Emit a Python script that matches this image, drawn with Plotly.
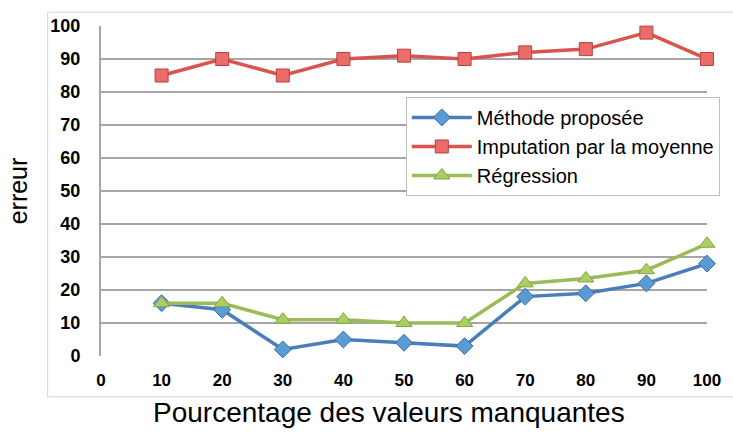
import plotly.graph_objects as go

# Percentage of missing values (x) and error of each method (y)
pourcentages = [10, 20, 30, 40, 50, 60, 70, 80, 90, 100]
methode_proposee = [16, 14, 2, 5, 4, 3, 18, 19, 22, 28]
imputation_moyenne = [85, 90, 85, 90, 91, 90, 92, 93, 98, 90]
regression = [16, 16, 11, 11, 10, 10, 22, 23.5, 26, 34]

x_ticks = [0, 10, 20, 30, 40, 50, 60, 70, 80, 90, 100]
y_ticks = [0, 10, 20, 30, 40, 50, 60, 70, 80, 90, 100]

series = [
    ("Méthode proposée", methode_proposee, "#4a7ebb", "#5b9bd5", "#3d6da6", "diamond", 13),
    ("Imputation par la moyenne", imputation_moyenne, "#d9534f", "#ec6b6b", "#b8403d", "square", 13),
    ("Régression", regression, "#9bbb59", "#a9cf5f", "#86a448", "triangle-up", 14),
]

fig = go.Figure()
for name, values, line_col, fill_col, edge_col, symbol, size in series:
    fig.add_trace(go.Scatter(
        x=pourcentages, y=values, name=name, mode="lines+markers",
        line=dict(color=line_col, width=3.5),
        marker=dict(symbol=symbol, size=size, color=fill_col,
                    line=dict(color=edge_col, width=1)),
        cliponaxis=False,
    ))

fig.update_layout(
    width=733, height=433,
    margin=dict(l=101, r=18, t=26, b=77),
    paper_bgcolor="white", plot_bgcolor="white",
    font=dict(family="Liberation Sans, Arial, sans-serif", color="black"),
    showlegend=True,
    legend=dict(
        x=0.503, y=0.785, xanchor="left", yanchor="top",
        bgcolor="white", bordercolor="#bfbfbf", borderwidth=1,
        font=dict(size=20, family="Liberation Sans, Arial, sans-serif"),
        itemwidth=60, tracegroupgap=0,
    ),
    shapes=[dict(
        type="rect", xref="paper", yref="paper",
        x0=-0.088, x1=1.05, y0=-0.124, y1=1.042,
        line=dict(color="#d4d4d4", width=1), fillcolor="rgba(0,0,0,0)",
        layer="below",
    )],
    annotations=[dict(
        text="Pourcentage des valeurs manquantes",
        xref="paper", yref="paper", x=0.4756, y=-0.17,
        xanchor="center", yanchor="middle", showarrow=False,
        font=dict(size=28, family="Liberation Sans, Arial, sans-serif", color="black"),
    )],
)

fig.update_xaxes(
    range=[0, 100], tickvals=x_ticks, ticktext=[str(v) for v in x_ticks],
    showgrid=False, zeroline=False, showline=False,
    ticks="", ticklabelstandoff=12,
    tickfont=dict(size=17, family="Liberation Sans, Arial, sans-serif", weight="bold"),
)

fig.update_yaxes(
    range=[0, 100], tickvals=y_ticks,
    showgrid=True, gridcolor="#a6a6a6", gridwidth=2,
    zeroline=False, showline=True, linecolor="#a6a6a6", linewidth=2,
    ticks="", ticklabelstandoff=15,
    tickfont=dict(size=18, family="Liberation Sans, Arial, sans-serif", weight="bold"),
    title=dict(text="erreur", font=dict(size=25, family="Liberation Sans, Arial, sans-serif"),
               standoff=16),
)

fig.write_html("out.html")
